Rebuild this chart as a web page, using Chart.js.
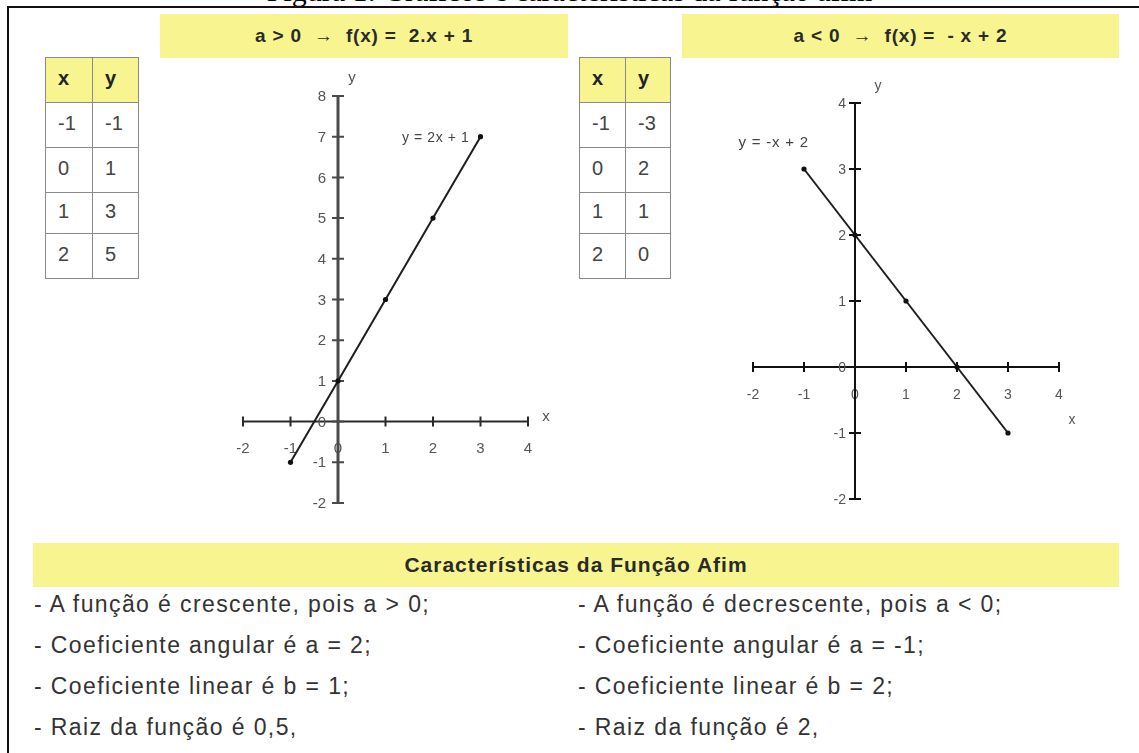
<!DOCTYPE html>
<html>
<head>
<meta charset="utf-8">
<script src="https://cdn.jsdelivr.net/npm/chart.js@4.4.1/dist/chart.umd.min.js"></script>
<style>
  html, body { margin: 0; padding: 0; }
  body {
    width: 1139px; height: 753px; overflow: hidden; position: relative;
    background: #fff; font-family: "Liberation Sans", Arial, sans-serif; color: #333;
  }
  .caption {
    position: absolute; left: 0; width: 1139px; top: -24px; line-height: 30px; text-align: center;
    font-family: "Liberation Serif", "Times New Roman", serif; font-size: 30px; color: #000;
  }
  .frame {
    position: absolute; left: 7px; top: 6px; width: 1160px; height: 800px;
    border-left: 2px solid #111; border-top: 2px solid #111; box-sizing: border-box; background: #fff;
  }
  .band {
    position: absolute; background: #f8f590; display: flex; align-items: center; justify-content: center;
    font-weight: bold; color: #2a2a2a; white-space: pre;
  }
  table.vals {
    position: absolute; border-collapse: collapse; font-size: 20px; color: #444;
  }
  table.vals td {
    border: 1.5px solid #8a8a8a; padding: 0 0 4px 12px; vertical-align: middle;
    box-sizing: border-box;
  }
  table.vals tr:first-child td { background: #f8f590; font-weight: bold; color: #222; }
  .chartbox { position: absolute; }
  .line {
    position: absolute; font-size: 23px; letter-spacing: 1.4px; color: #333; white-space: pre;
  }
</style>
</head>
<body>
<div class="caption">Figura 1: Gráficos e características da função afim</div>
<div class="frame"></div>

<div class="band" style="left:160px;top:14px;width:408px;height:44px;font-size:19px;letter-spacing:0.8px;">a &gt; 0  →  f(x) =  2.x + 1</div>
<div class="band" style="left:682px;top:14px;width:437px;height:44px;font-size:19px;letter-spacing:0.8px;">a &lt; 0  →  f(x) =  - x + 2</div>

<table class="vals" id="tabA" style="left:45px;top:57px;"></table>
<table class="vals" id="tabB" style="left:579px;top:57px;"></table>

<div class="chartbox" style="left:200px;top:60px;width:370px;height:475px;"><canvas id="chartA" width="370" height="475"></canvas></div>
<div class="chartbox" style="left:720px;top:70px;width:390px;height:450px;"><canvas id="chartB" width="390" height="450"></canvas></div>

<div class="band" style="left:33px;top:543px;width:1086px;height:44px;font-size:21px;letter-spacing:1px;">Características da Função Afim</div>

<div class="line" style="left:34px;top:591px;">- A função é crescente, pois a &gt; 0;</div>
<div class="line" style="left:34px;top:632px;">- Coeficiente angular é a = 2;</div>
<div class="line" style="left:34px;top:673px;">- Coeficiente linear é b = 1;</div>
<div class="line" style="left:34px;top:714px;">- Raiz da função é 0,5,</div>
<div class="line" style="left:578px;top:591px;">- A função é decrescente, pois a &lt; 0;</div>
<div class="line" style="left:578px;top:632px;">- Coeficiente angular é a = -1;</div>
<div class="line" style="left:578px;top:673px;">- Coeficiente linear é b = 2;</div>
<div class="line" style="left:578px;top:714px;">- Raiz da função é 2,</div>

<script>
// Value tables shown beside each graph
const tableAx = ['-1', '0', '1', '2'];
const tableAy = ['-1', '1', '3', '5'];
const tableBx = ['-1', '0', '1', '2'];
const tableBy = ['-3', '2', '1', '0'];

// Plotted points of y = 2x + 1
const lineAx = [-1, 0, 1, 2, 3];
const lineAy = [-1, 1, 3, 5, 7];
// Plotted points of y = -x + 2
const lineBx = [-1, 0, 1, 2, 3];
const lineBy = [3, 2, 1, 0, -1];

// Axis tick values
const ticksAx = [-2, -1, 0, 1, 2, 3, 4];
const ticksAy = [-2, -1, 0, 1, 2, 3, 4, 5, 6, 7, 8];
const ticksBx = [-2, -1, 0, 1, 2, 3, 4];
const ticksBy = [-2, -1, 0, 1, 2, 3, 4];

const labelA = 'y = 2x + 1';
const labelB = 'y = -x + 2';

function fillTable(id, xs, ys) {
  const t = document.getElementById(id);
  const rows = [['x', 'y']].concat(xs.map((x, i) => [x, ys[i]]));
  rows.forEach((r, i) => {
    const tr = document.createElement('tr');
    r.forEach((c, j) => {
      const td = document.createElement('td');
      td.textContent = c;
      td.style.width = (j === 0 ? (id === 'tabA' ? 47 : 46) : (id === 'tabA' ? 46 : 45)) + 'px';
      td.style.height = (i === 3 ? 41 : 45) + 'px';
      tr.appendChild(td);
    });
    t.appendChild(tr);
  });
}
fillTable('tabA', tableAx, tableAy);
fillTable('tabB', tableBx, tableBy);

// Draws axis lines with crossing tick marks, y tick labels, axis letters and the equation label
const cartesianAxes = {
  id: 'cartesianAxes',
  beforeDatasetsDraw(chart, args, opts) {
    const { ctx, scales: { x, y } } = chart;
    const x0 = x.getPixelForValue(0), y0 = y.getPixelForValue(0);
    ctx.save();
    ctx.strokeStyle = opts.axisColor;
    ctx.lineWidth = 2;
    ctx.beginPath();
    ctx.moveTo(x.left, y0); ctx.lineTo(x.right, y0);
    x.ticks.forEach(t => {
      const px = x.getPixelForValue(t.value);
      ctx.moveTo(px, y0 - 5); ctx.lineTo(px, y0 + 5);
    });
    ctx.stroke();
    ctx.strokeStyle = opts.yAxisColor;
    ctx.lineWidth = opts.yAxisWidth;
    ctx.beginPath();
    ctx.moveTo(x0, y.top); ctx.lineTo(x0, y.bottom);
    ctx.stroke();
    ctx.lineWidth = 2;
    ctx.beginPath();
    y.ticks.forEach(t => {
      const py = y.getPixelForValue(t.value);
      ctx.moveTo(x0 - 6, py); ctx.lineTo(x0 + 6, py);
    });
    ctx.stroke();

    ctx.fillStyle = '#555';
    ctx.font = opts.tickFont;
    ctx.textAlign = 'right';
    ctx.textBaseline = 'middle';
    y.ticks.forEach(t => {
      ctx.fillText(String(t.value), x0 - opts.yTickGap, y.getPixelForValue(t.value) + 1);
    });
    ctx.restore();
  },
  afterDatasetsDraw(chart, args, opts) {
    const { ctx, scales: { x, y } } = chart;
    const x0 = x.getPixelForValue(0), y0 = y.getPixelForValue(0);
    ctx.save();
    ctx.fillStyle = '#555';
    ctx.font = opts.letterFont;
    ctx.textAlign = 'center';
    ctx.textBaseline = 'middle';
    ctx.fillText('x', x.right + opts.xLetter[0], y0 + opts.xLetter[1]);
    ctx.fillText('y', x0 + opts.yLetter[0], y.top + opts.yLetter[1]);
    const ds = chart.data.datasets[0].data;
    const p = opts.labelAt === 'last' ? ds[ds.length - 1] : ds[0];
    ctx.font = opts.labelFont;
    ctx.letterSpacing = opts.labelSpacing;
    ctx.textAlign = 'right';
    ctx.fillStyle = '#444';
    ctx.fillText(opts.label, x.getPixelForValue(p.x) + opts.labelOffset[0], y.getPixelForValue(p.y) + opts.labelOffset[1]);
    ctx.restore();
  }
};

function makeChart(id, xs, ys, tx, ty, padding, tickFont, xPad, pluginOpts) {
  const zeroSize = s => { if (s.isHorizontal()) s.height = 0; else s.width = 0; };
  return new Chart(document.getElementById(id), {
    type: 'line',
    data: {
      datasets: [{
        data: xs.map((v, i) => ({ x: v, y: ys[i] })),
        borderColor: '#1e1e1e', borderWidth: 2,
        pointRadius: 2.6, pointBackgroundColor: '#111', pointBorderWidth: 0,
        tension: 0
      }]
    },
    options: {
      responsive: false, animation: false,
      layout: { padding },
      plugins: { legend: { display: false }, tooltip: { enabled: false }, cartesianAxes: pluginOpts },
      scales: {
        x: {
          type: 'linear', position: { y: 0 }, min: tx[0], max: tx[tx.length - 1],
          afterBuildTicks: s => { s.ticks = tx.map(v => ({ value: v })); },
          afterFit: zeroSize,
          grid: { display: false, drawTicks: false }, border: { display: false },
          ticks: { autoSkip: false, maxRotation: 0, padding: xPad, color: '#555', font: tickFont, callback: v => String(v) }
        },
        y: {
          type: 'linear', position: { x: 0 }, min: ty[0], max: ty[ty.length - 1],
          afterBuildTicks: s => { s.ticks = ty.map(v => ({ value: v })); },
          afterFit: zeroSize,
          grid: { display: false, drawTicks: false }, border: { display: false },
          ticks: { display: false }
        }
      }
    },
    plugins: [cartesianAxes]
  });
}

makeChart('chartA', lineAx, lineAy, ticksAx, ticksAy,
  { left: 43, right: 42, top: 36, bottom: 32 },
  { family: 'Liberation Sans', size: 15 }, 18,
  { axisColor: '#2a2a2a', yAxisColor: '#4a4a4a', yAxisWidth: 3, tickFont: '15px "Liberation Sans"', yTickGap: 12,
    letterFont: '15px "Liberation Sans"', xLetter: [18, -5], yLetter: [14, -18],
    label: labelA, labelFont: '14px "Liberation Sans"', labelSpacing: '0.6px', labelAt: 'last', labelOffset: [-11, 1] });

makeChart('chartB', lineBx, lineBy, ticksBx, ticksBy,
  { left: 33, right: 51, top: 33, bottom: 21 },
  { family: 'Liberation Sans', size: 14 }, 20,
  { axisColor: '#111', yAxisColor: '#111', yAxisWidth: 2, tickFont: '14px "Liberation Sans"', yTickGap: 9,
    letterFont: '14px "Liberation Sans"', xLetter: [13, 53], yLetter: [23, -17],
    label: labelB, labelFont: '15px "Liberation Sans"', labelSpacing: '0.8px', labelAt: 'first', labelOffset: [5, -26] });
</script>
</body>
</html>
